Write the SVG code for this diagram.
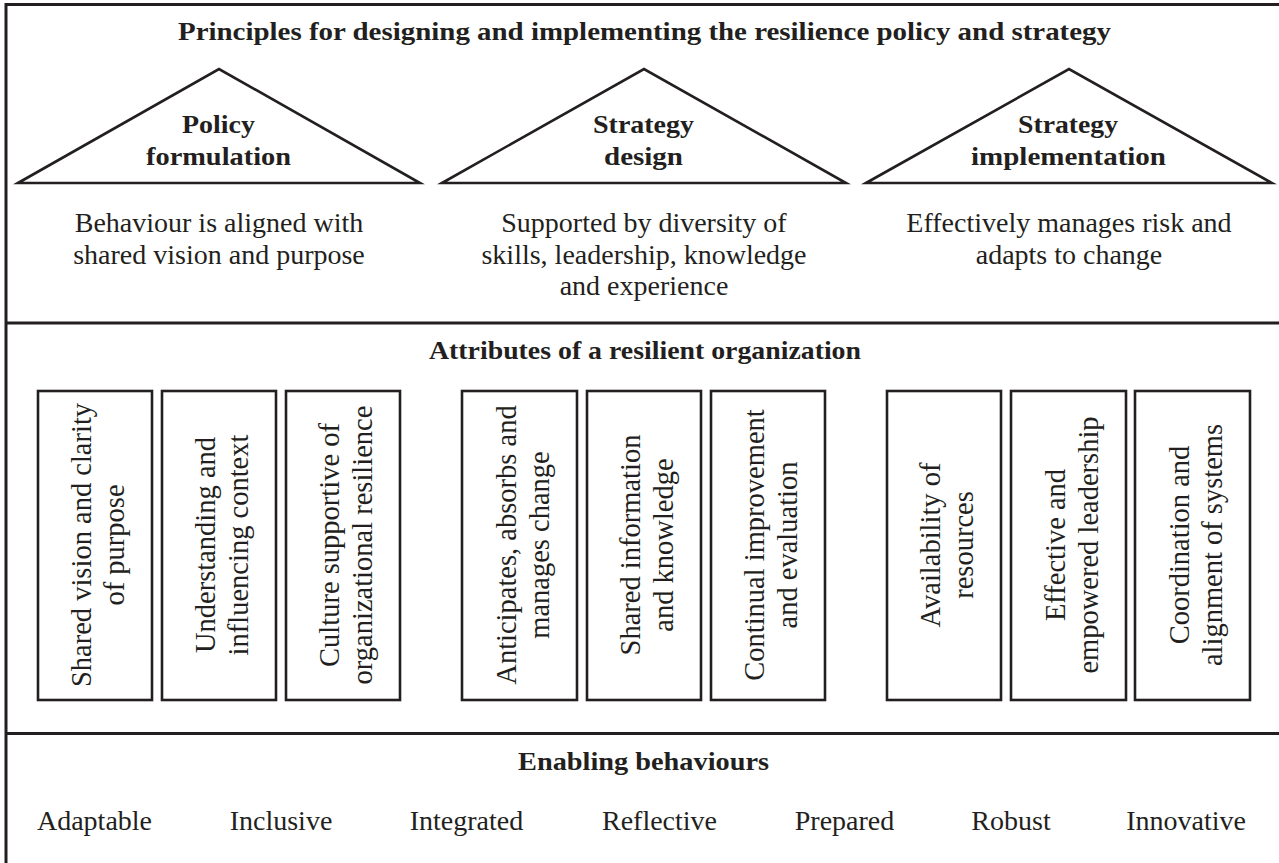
<svg xmlns="http://www.w3.org/2000/svg" width="1279" height="863" viewBox="0 0 1279 863">
<style>
.ln{fill:none;stroke:#231f20;stroke-width:3}
.tri{fill:#fff;stroke:#231f20;stroke-width:2.6;stroke-linejoin:miter}
.box{fill:#fff;stroke:#231f20;stroke-width:2.6}
.h{font-family:"Liberation Serif","Times New Roman",serif;font-weight:bold;font-size:26px;fill:#231f20;text-anchor:middle}
.t{font-family:"Liberation Serif","Times New Roman",serif;font-size:28px;fill:#231f20;text-anchor:middle}
.v{font-family:"Liberation Serif","Times New Roman",serif;font-size:28.5px;fill:#231f20;text-anchor:middle}
</style>
<rect width="1279" height="863" fill="#fff"/>
<g id="frame">
<line class="ln" x1="6" y1="4.5" x2="1279" y2="4.5"/>
<line class="ln" x1="6" y1="3" x2="6" y2="863"/>
<line class="ln" x1="6" y1="323" x2="1279" y2="323"/>
<line class="ln" x1="6" y1="733.5" x2="1279" y2="733.5"/>
</g>
<g id="title"><text class="h" x="644.5" y="40" textLength="933" lengthAdjust="spacingAndGlyphs">Principles for designing and implementing the resilience policy and strategy</text></g>
<g id="policy-formulation">
<polygon class="tri" points="18,183 219,69 420,183"/>
<text class="h" x="218.5" y="133" textLength="73" lengthAdjust="spacingAndGlyphs">Policy</text>
<text class="h" x="218.5" y="165" textLength="145" lengthAdjust="spacingAndGlyphs">formulation</text>
<text class="t"><tspan x="219" y="232">Behaviour is aligned with</tspan><tspan x="219" y="263.5">shared vision and purpose</tspan></text>
</g>
<g id="strategy-design">
<polygon class="tri" points="442,183 644,69 846,183"/>
<text class="h" x="643.5" y="133" textLength="101" lengthAdjust="spacingAndGlyphs">Strategy</text>
<text class="h" x="643.5" y="165" textLength="79" lengthAdjust="spacingAndGlyphs">design</text>
<text class="t"><tspan x="644" y="232">Supported by diversity of</tspan><tspan x="644" y="263.5">skills, leadership, knowledge</tspan><tspan x="644" y="295">and experience</tspan></text>
</g>
<g id="strategy-implementation">
<polygon class="tri" points="866,183 1069,69 1272,183"/>
<text class="h" x="1068" y="133" textLength="100" lengthAdjust="spacingAndGlyphs">Strategy</text>
<text class="h" x="1068.5" y="165" textLength="195" lengthAdjust="spacingAndGlyphs">implementation</text>
<text class="t"><tspan x="1069" y="232">Effectively manages risk and</tspan><tspan x="1069" y="263.5">adapts to change</tspan></text>
</g>
<g id="attributes-heading"><text class="h" x="645" y="359" textLength="432" lengthAdjust="spacingAndGlyphs">Attributes of a resilient organization</text></g>
<g id="attr1"><rect class="box" x="38" y="391" width="114" height="309"/><text class="v" transform="translate(95,545) rotate(-90)"><tspan x="0" y="-4">Shared vision and clarity</tspan><tspan x="0" y="29">of purpose</tspan></text></g>
<g id="attr2"><rect class="box" x="162" y="391" width="114" height="309"/><text class="v" transform="translate(219,545) rotate(-90)"><tspan x="0" y="-4">Understanding and</tspan><tspan x="0" y="29">influencing context</tspan></text></g>
<g id="attr3"><rect class="box" x="286" y="391" width="114" height="309"/><text class="v" transform="translate(343,545) rotate(-90)"><tspan x="0" y="-4">Culture supportive of</tspan><tspan x="0" y="29">organizational resilience</tspan></text></g>
<g id="attr4"><rect class="box" x="462" y="391" width="115" height="309"/><text class="v" transform="translate(519.5,545) rotate(-90)"><tspan x="0" y="-4">Anticipates, absorbs and</tspan><tspan x="0" y="29">manages change</tspan></text></g>
<g id="attr5"><rect class="box" x="587" y="391" width="114" height="309"/><text class="v" transform="translate(644,545) rotate(-90)"><tspan x="0" y="-4">Shared information</tspan><tspan x="0" y="29">and knowledge</tspan></text></g>
<g id="attr6"><rect class="box" x="711" y="391" width="114" height="309"/><text class="v" transform="translate(768,545) rotate(-90)"><tspan x="0" y="-4">Continual improvement</tspan><tspan x="0" y="29">and evaluation</tspan></text></g>
<g id="attr7"><rect class="box" x="887" y="391" width="114" height="309"/><text class="v" transform="translate(944,545) rotate(-90)"><tspan x="0" y="-4">Availability of</tspan><tspan x="0" y="29">resources</tspan></text></g>
<g id="attr8"><rect class="box" x="1011" y="391" width="115" height="309"/><text class="v" transform="translate(1068.5,545) rotate(-90)"><tspan x="0" y="-4">Effective and</tspan><tspan x="0" y="29">empowered leadership</tspan></text></g>
<g id="attr9"><rect class="box" x="1135" y="391" width="115" height="309"/><text class="v" transform="translate(1192.5,545) rotate(-90)"><tspan x="0" y="-4">Coordination and</tspan><tspan x="0" y="29">alignment of systems</tspan></text></g>
<g id="enabling-heading"><text class="h" x="643.5" y="770" textLength="251" lengthAdjust="spacingAndGlyphs">Enabling behaviours</text></g>
<g id="behaviours">
<text class="t" x="94.5" y="830">Adaptable</text>
<text class="t" x="281" y="830">Inclusive</text>
<text class="t" x="466.5" y="830">Integrated</text>
<text class="t" x="659.5" y="830">Reflective</text>
<text class="t" x="844.5" y="830">Prepared</text>
<text class="t" x="1011" y="830">Robust</text>
<text class="t" x="1186" y="830">Innovative</text>
</g>
<g id="connectors"></g>
</svg>
